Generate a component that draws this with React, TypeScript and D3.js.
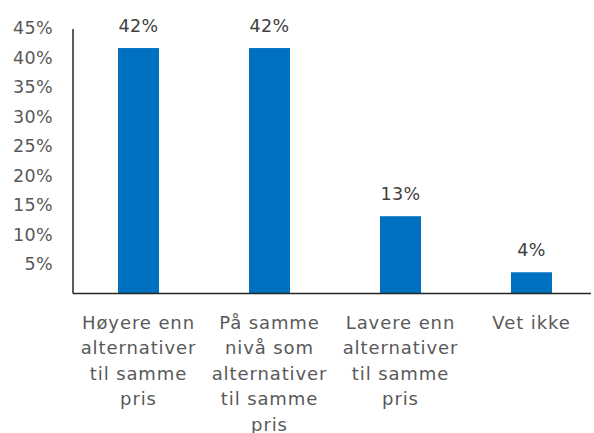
import * as d3 from 'd3';
import React from 'react';

const categories = [
  ['Høyere enn', 'alternativer', 'til samme', 'pris'],
  ['På samme', 'nivå som', 'alternativer', 'til samme', 'pris'],
  ['Lavere enn', 'alternativer', 'til samme', 'pris'],
  ['Vet ikke'],
];
const values = [0.416, 0.416, 0.131, 0.036];
const valueLabels = ['42%', '42%', '13%', '4%'];
const yTicks = [0.05, 0.1, 0.15, 0.2, 0.25, 0.3, 0.35, 0.4, 0.45];

export default function App() {
  const width = 594, height = 433
  const left = 73, right = 597, bottom = 293.5, top = 28

  const x = d3.scaleBand<number>()
    .domain(categories.map((_, i) => i))
    .range([left, right])
    .paddingInner(0.687)
    .paddingOuter(0.3435)
  const y = d3.scaleLinear().domain([0, 0.45]).range([bottom, top])
  const fmt = d3.format('.0%')
  const font = 'DejaVu Sans, sans-serif'

  return (
    <svg width={width} height={height} style={{ position: 'absolute', left: 0, top: 0 }}
      fontFamily={font}>
      <rect width={width} height={height} fill="#fff" />
      {yTicks.map(t => (
        <text key={t} x={53} y={y(t)} dy="0.35em" textAnchor="end" fontSize={17.5} letterSpacing={0.4} fill="#595959">
          {fmt(t)}
        </text>
      ))}
      {values.map((v, i) => (
        <g key={i}>
          <rect x={x(i)} y={y(v)} width={x.bandwidth()} height={bottom - y(v)} fill="#0070C0" />
          <text x={x(i)! + x.bandwidth() / 2} y={y(v) - 16} textAnchor="middle" fontSize={17.5} letterSpacing={0.4} fill="#404040">
            {valueLabels[i]}
          </text>
          <text textAnchor="middle" fontSize={18} letterSpacing={0.9} fill="#595959">
            {categories[i].map((line, j) => (
              <tspan key={j} x={x(i)! + x.bandwidth() / 2} y={328.5 + j * 25.5}>{line}</tspan>
            ))}
          </text>
        </g>
      ))}
      <line x1={left} x2={left} y1={29} y2={bottom} stroke="#262626" strokeWidth={1.5} />
      <line x1={left} x2={591} y1={bottom} y2={bottom} stroke="#262626" strokeWidth={1.5} />
    </svg>
  )
}
